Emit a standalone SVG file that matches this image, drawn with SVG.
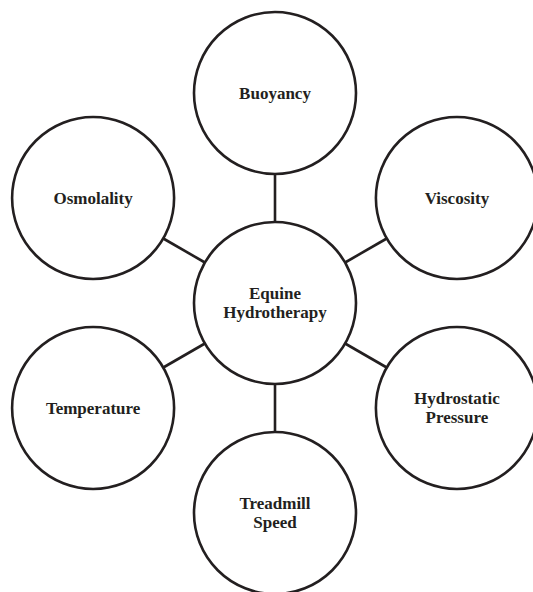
<svg xmlns="http://www.w3.org/2000/svg" width="533" height="592" viewBox="0 0 533 592">
<style>
.n circle{fill:#fff;stroke:#231f20;stroke-width:2.6}
.n text{font-family:"Liberation Serif","Times New Roman",serif;font-weight:bold;font-size:17px;fill:#231f20;text-anchor:middle}
#connectors line{stroke:#231f20;stroke-width:2.6}
</style>
<rect width="533" height="592" fill="#fff"/>
<g id="connectors">
<line x1="275" y1="174" x2="275" y2="222"/>
<line x1="345.1" y1="262.5" x2="386.7" y2="238.5"/>
<line x1="345.1" y1="343.5" x2="386.7" y2="367.5"/>
<line x1="275" y1="384" x2="275" y2="432"/>
<line x1="204.9" y1="343.5" x2="163.3" y2="367.5"/>
<line x1="204.9" y1="262.5" x2="163.3" y2="238.5"/>
</g>
<g id="buoyancy" class="n"><circle cx="275" cy="93" r="81"/><text x="275" y="99">Buoyancy</text></g>
<g id="viscosity" class="n"><circle cx="456.9" cy="198" r="81"/><text x="456.9" y="204">Viscosity</text></g>
<g id="hydrostatic-pressure" class="n"><circle cx="456.9" cy="408" r="81"/><text x="456.9" y="404.2">Hydrostatic</text><text x="456.9" y="423">Pressure</text></g>
<g id="treadmill-speed" class="n"><circle cx="275" cy="513" r="81"/><text x="275" y="509.2">Treadmill</text><text x="275" y="528">Speed</text></g>
<g id="temperature" class="n"><circle cx="93.1" cy="408" r="81"/><text x="93.1" y="414">Temperature</text></g>
<g id="osmolality" class="n"><circle cx="93.1" cy="198" r="81"/><text x="93.1" y="204">Osmolality</text></g>
<g id="equine-hydrotherapy" class="n"><circle cx="275" cy="303" r="81"/><text x="275" y="299.2">Equine</text><text x="275" y="318">Hydrotherapy</text></g>
</svg>
